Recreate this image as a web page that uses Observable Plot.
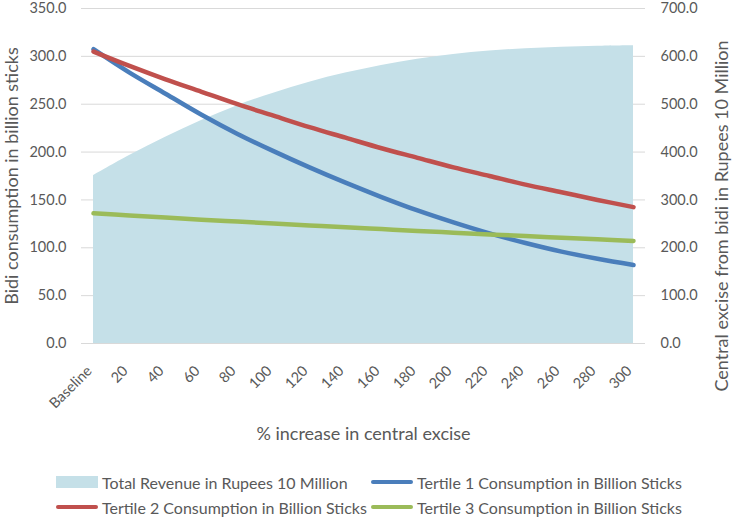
<!DOCTYPE html>
<html><head><meta charset="utf-8">
<script src="https://cdn.jsdelivr.net/npm/d3@7"></script>
<script src="https://cdn.jsdelivr.net/npm/@observablehq/plot@0.6"></script>
<style>
body{margin:0;background:#fff;font-family:Lato,sans-serif;}
#legend{width:737px;box-sizing:border-box;padding-left:56px;padding-top:12px;color:#595959;font-size:16px;display:grid;grid-template-columns:315px auto;row-gap:5px;}
.item{display:flex;align-items:center;white-space:nowrap;height:20px;}
.sw{display:inline-block;width:42px;margin-right:4px;}
</style></head><body><div id="chart"></div><div id="legend"></div>
<script>
const categories = ["Baseline","20","40","60","80","100","120","140","160","180","200","220","240","260","280","300"];
const revenue  = [351,393,431,466,497,523,546,565,581,594,604,611,616,619,621,622];
const tertile1 = [307.5,283,261,239,219,201,184,168,153,139,126.5,115,105,96,88.5,82];
const tertile2 = [305,290,276,263,250,238,226,215,204,194,184,175,166,158,150,142.5];
const tertile3 = [136,133.8,131.6,129.4,127.4,125.4,123.4,121.4,119.5,117.6,115.8,114,112.2,110.5,108.8,107.1];
const leftTicks  = [0,50,100,150,200,250,300,350];
const rightTicks = [0,100,200,300,400,500,600,700];
const leftMax = 350, rightMax = 700;
const xTitle = "% increase in central excise";
const leftTitle = "Bidi consumption in billion sticks";
const rightTitle = "Central excise from bidi in Rupees 10 Million";
const seriesNames = ["Total Revenue in Rupees 10 Million","Tertile 1 Consumption in Billion Sticks","Tertile 2 Consumption in Billion Sticks","Tertile 3 Consumption in Billion Sticks"];
const colors = ["#c5e0e8","#4a7ebb","#c0504d","#9bbb59"];

const ratio = leftMax / rightMax;
const rows = categories.map((c,i)=>({cat:c, rev:revenue[i]*ratio, t1:tertile1[i], t2:tertile2[i], t3:tertile3[i]}));
const curve = "catmull-rom";
const lineOpts = (key, color) => ({x:"cat", y:key, stroke:color, strokeWidth:4.5, curve, strokeLinecap:"round", strokeLinejoin:"round"});
const titleStyle = {fill:"#595959", fontSize:18, lineAnchor:"middle", textAnchor:"middle"};

const chart = Plot.plot({
  width:737, height:460, marginLeft:81, marginRight:92, marginTop:8, marginBottom:117,
  style:{fontFamily:"Lato, sans-serif", fontSize:"14.5px", color:"#595959", background:"white", overflow:"visible"},
  x:{type:"point", domain:categories, padding:0.27},
  y:{domain:[0,leftMax]},
  marks:[
    Plot.gridY(leftTicks,{stroke:"#d9d9d9", strokeOpacity:1}),
    Plot.areaY(rows,{x:"cat", y:"rev", fill:colors[0], curve}),
    Plot.lineY(rows, lineOpts("t1", colors[1])),
    Plot.lineY(rows, lineOpts("t2", colors[2])),
    Plot.lineY(rows, lineOpts("t3", colors[3])),
    Plot.axisY(leftTicks,{anchor:"left", tickSize:0, tickPadding:15, tickFormat:d=>d.toFixed(1), label:null}),
    Plot.axisY(rightTicks.map(v=>v*ratio),{anchor:"right", tickSize:0, tickPadding:15, tickFormat:d=>(d/ratio).toFixed(1), label:null}),
    Plot.axisX({tickRotate:-45, tickSize:0, tickPadding:25, dx:-4, label:null}),
    Plot.text([xTitle],{...titleStyle, frameAnchor:"bottom", dy:91}),
    Plot.text([leftTitle],{...titleStyle, frameAnchor:"left", rotate:-90, dx:-69}),
    Plot.text([rightTitle],{...titleStyle, frameAnchor:"right", rotate:-90, dx:77, dy:40})
  ]
});
document.getElementById("chart").appendChild(chart);

const legend = document.getElementById("legend");
seriesNames.forEach((name,i)=>{
  const item = document.createElement("div"); item.className="item";
  const sw = document.createElement("span"); sw.className="sw";
  sw.style.background = colors[i];
  sw.style.height = i===0 ? "12px" : "4px";
  if (i>0) sw.style.borderRadius="2px";
  item.appendChild(sw);
  item.appendChild(document.createTextNode(name));
  legend.appendChild(item);
});
</script></body></html>
